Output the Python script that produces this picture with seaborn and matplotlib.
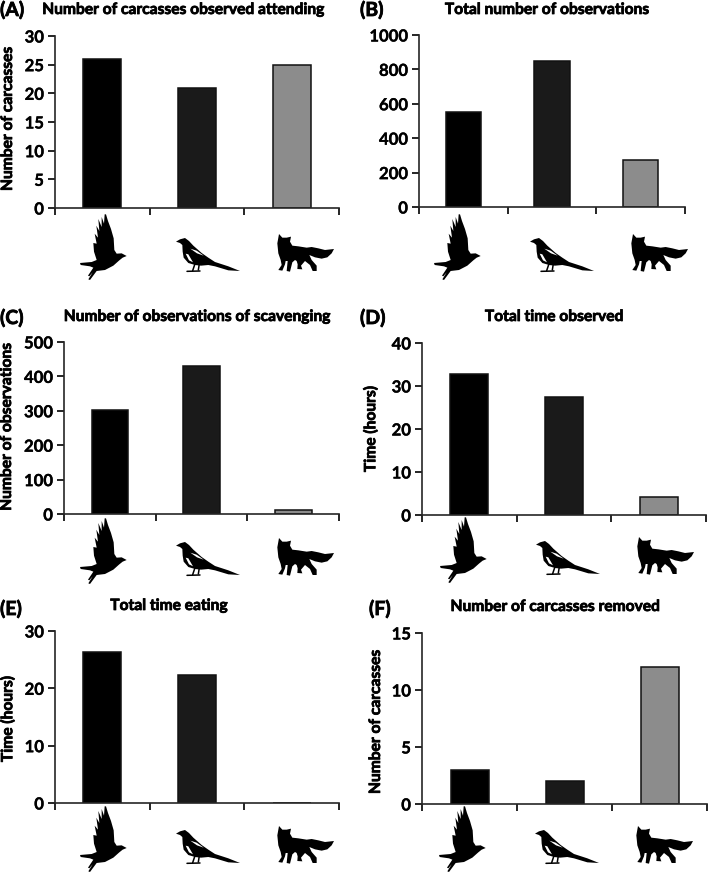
import numpy as np
import pandas as pd
import matplotlib.pyplot as plt
import matplotlib.patheffects as pe
from matplotlib.patches import Polygon
from matplotlib.transforms import Affine2D
import seaborn as sns

W, H = 709, 872

species = ["Crow", "Magpie", "Fox"]
bar_colors = ["#000000", "#1a1a1a", "#8c8c8c"]

carcasses_attending = [26, 21, 25]
total_observations = [553, 850, 272]
scavenging_observations = [303, 430, 12]
time_observed = [32.8, 27.5, 4.2]
time_eating = [26.4, 22.3, 0]
carcasses_removed = [3, 2, 12]

ticks_a = [0, 5, 10, 15, 20, 25, 30]
ticks_b = [0, 200, 400, 600, 800, 1000]
ticks_c = [0, 100, 200, 300, 400, 500]
ticks_d = [0, 10, 20, 30, 40]
ticks_e = [0, 10, 20, 30]
ticks_f = [0, 5, 10, 15]

sns.set_style("ticks")
plt.rcParams["font.family"] = ["Lato", "DejaVu Sans"]

fig = plt.figure(figsize=(W / 100, H / 100), dpi=100)

# pixel coordinates, y going down
px = Affine2D().scale(1 / W, -1 / H).translate(0, 1) + fig.transFigure
heavy = [pe.withStroke(linewidth=0.55, foreground="black")]
medium = [pe.withStroke(linewidth=0.25, foreground="black")]

# ---------- animal outlines, traced in 3x zoom units ----------
bird = [(170, 153), (155, 145), (140, 146), (133, 135), (131, 100), (123, 72), (114, 48), (108, 28),
        (104, 28), (102, 56), (95, 36), (95, 66), (85, 42), (88, 78), (79, 62), (84, 98), (74, 86),
        (80, 116), (70, 114), (72, 140), (80, 165), (65, 171), (30, 174), (32, 180), (60, 184),
        (70, 188), (54, 212), (58, 214), (68, 202), (55, 223), (60, 225), (80, 198), (105, 195),
        (130, 182), (148, 166), (158, 158)]
magpie = [(33, 50), (45, 43), (60, 39), (72, 48), (85, 62), (110, 84), (130, 98), (150, 111),
          (190, 124), (225, 138), (190, 136), (150, 124), (130, 120), (108, 122), (90, 120), (70, 114),
          (56, 98), (53, 80), (52, 60), (45, 54)]
magpie_white = [[(76, 71), (95, 77), (116, 92), (96, 85)], [(62, 86), (70, 88), (84, 112), (72, 106)]]
magpie_legs = [[(90, 116), (83, 137)], [(103, 116), (100, 135)], [(66, 139), (105, 138)]]
fox = [(42, 27), (52, 38), (65, 38), (78, 35), (75, 50), (82, 62), (100, 64), (125, 68), (140, 66),
       (160, 70), (180, 75), (207, 72), (200, 85), (187, 97), (170, 101), (150, 97), (133, 90),
       (140, 105), (155, 122), (155, 138), (143, 138), (135, 120), (120, 108), (108, 122), (112, 133),
       (97, 132), (98, 118), (95, 108), (90, 105), (82, 112), (75, 140), (65, 138), (68, 108), (62, 108),
       (60, 118), (52, 137), (40, 135), (50, 120), (47, 105), (40, 85), (37, 55)]


def shape(points, ox, oy, color="black"):
    pts = np.array(points) / 3 + [ox, oy]
    fig.add_artist(Polygon(pts, closed=True, facecolor=color, edgecolor="none", transform=px))


def draw_animals(dx, dy):
    shape(bird, 70 + dx, 205 + dy)
    mx, my = 165 + dx, 225 + dy
    shape(magpie, mx, my)
    for part in magpie_white:
        shape(part, mx, my, "white")
    for leg in magpie_legs:
        pts = np.array(leg) / 3 + [mx, my]
        fig.add_artist(plt.Line2D(pts[:, 0], pts[:, 1], color="black", lw=1.1, transform=px))
    shape(fox, 265 + dx, 225 + dy)


def panel(values, ticks, box, title, title_xy, letter, letter_xy, ylabel, ylabel_xy, offset):
    left, right, top, bottom = box
    ax = fig.add_axes([left / W, 1 - bottom / H, (right - left) / W, (bottom - top) / H])
    df = pd.DataFrame({"species": species, "value": values})
    sns.barplot(data=df, x="species", y="value", hue="species", palette=bar_colors, width=0.4,
                saturation=1, edgecolor="#111111", linewidth=1.1, legend=False, ax=ax)
    ax.set_xlim(-0.5, 2.5)
    ax.set_ylim(ticks[0], ticks[-1])
    ax.set_xticks([-0.5, 0.5, 1.5, 2.5])
    ax.set_xticklabels([])
    ax.set_yticks(ticks)
    ax.set_xlabel("")
    ax.set_ylabel("")
    ax.tick_params(axis="y", length=5, width=1.2, color="black", labelsize=12, pad=3, labelcolor="black")
    ax.tick_params(axis="x", length=5, width=1.2, color="black")
    for label in ax.get_yticklabels():
        label.set_fontweight("bold")
        label.set_path_effects(medium)
    sns.despine(ax=ax)
    ax.spines["left"].set_linewidth(1.2)
    ax.spines["bottom"].set_linewidth(1.2)

    fig.text(title_xy[0], title_xy[1], title, transform=px, ha="center", va="center",
             fontsize=11.2, fontweight="bold", color="black", path_effects=heavy)
    fig.text(letter_xy[0], letter_xy[1], letter, transform=px, ha="left", va="center",
             fontsize=14, fontweight="bold", color="black", path_effects=heavy)
    if ylabel:
        fig.text(ylabel_xy[0], ylabel_xy[1], ylabel, transform=px, ha="center", va="center",
                 rotation=90, fontsize=11.2, fontweight="bold", color="black", path_effects=heavy)
    draw_animals(*offset)


panel(carcasses_attending, ticks_a, (55, 339, 36, 208),
      "Number of carcasses observed attending", (183, 10), "(A)", (0, 10),
      "Number of carcasses", (8, 119), (0, 0))
panel(total_observations, ticks_b, (419, 685, 35, 207),
      "Total number of observations", (547, 10), "(B)", (360, 10),
      None, None, (354, 0))
panel(scavenging_observations, ticks_c, (64, 339, 342, 514),
      "Number of observations of scavenging", (197, 317), "(C)", (0, 318),
      "Number of observations", (7, 427), (0, 304))
panel(time_observed, ticks_d, (422, 706, 343, 515),
      "Total time observed", (554, 317), "(D)", (360, 318),
      "Time (hours)", (371, 429), (360, 303))
panel(time_eating, ticks_e, (55, 339, 631, 803),
      "Total time eating", (169, 606), "(E)", (0, 609),
      "Time (hours)", (8, 719), (0, 592))
panel(carcasses_removed, ticks_f, (422, 707, 633, 804),
      "Number of carcasses removed", (555, 607), "(F)", (369, 609),
      "Number of carcasses", (376, 722), (359, 592))

fig.savefig("out.png", dpi=100)
plt.close(fig)
